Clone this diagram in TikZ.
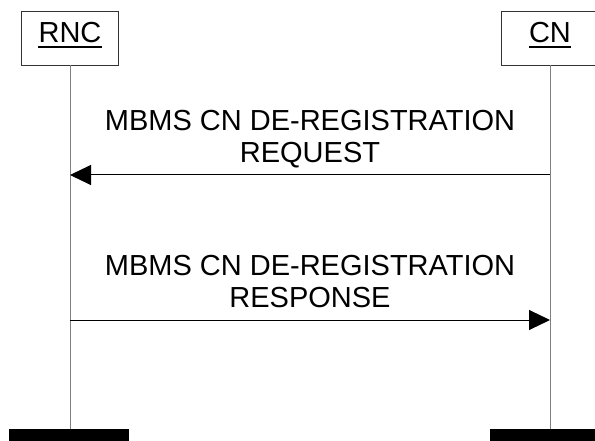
\documentclass[tikz,border=0pt]{standalone}
\usepackage{fontspec}
\setmainfont{Liberation Sans}
\usetikzlibrary{arrows.meta,positioning}

\tikzset{
  entity/.style={draw=black!80, line width=0.8pt, minimum width=97pt, minimum height=54pt, inner sep=0pt},
  entitytext/.style={anchor=base, inner sep=0pt, font=\fontsize{29}{32}\selectfont},
  lifeline/.style={draw=black!50, line width=1pt},
  msg/.style={draw=black, line width=1pt, -{Triangle[length=21pt,width=20pt]}},
  msgtext/.style={anchor=south, align=center, inner sep=0pt, text depth=0pt, yshift=12pt, font=\fontsize{29}{32}\selectfont},
  endbar/.style={fill=black, inner sep=0pt, minimum width=120pt, minimum height=14pt}
}

\begin{document}
\begin{tikzpicture}[x=1pt,y=-1pt]
    \clip (0,0) rectangle (595,441);
    % entities
    \node [entity] (rnc) at (70,38) {};
    \node [entity] (cn) at (550,38) {};
    \node [entitytext] (rnctxt) at (70,43) {RNC};
    \node [entitytext] (cntxt) at (550,43) {CN};
    \draw [line width=2.5pt] ([yshift=-4pt]rnctxt.base west) -- ([yshift=-4pt]rnctxt.base east);
    \draw [line width=2.5pt] ([yshift=-4pt]cntxt.base west) -- ([yshift=-4pt]cntxt.base east);
    % lifelines
    \node [endbar] (rncbar) at (69,436) {};
    \node [endbar] (cnbar) at (550,436) {};
    \draw [lifeline] (rnc.south) -- (rnc.south |- rncbar.north);
    \draw [lifeline] (cn.south) -- (cn.south |- cnbar.north);
    % messages
    \coordinate (reqcn) at (550,175);
    \coordinate (reqrnc) at (70,175);
    \coordinate (respcn) at (550,320);
    \coordinate (resprnc) at (70,320);
    \draw [msg] (reqcn) -- node [msgtext] (reqlbl) {MBMS CN DE-REGISTRATION\\REQUEST} (reqrnc);
    \draw [msg] (resprnc) -- node [msgtext] (resplbl) {MBMS CN DE-REGISTRATION\\RESPONSE} (respcn);
\end{tikzpicture}
\end{document}
